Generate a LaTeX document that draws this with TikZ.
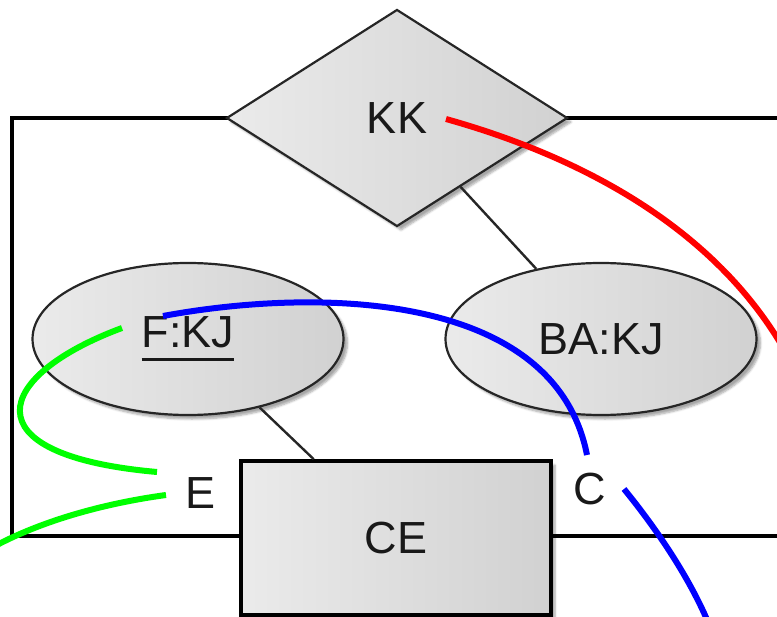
\documentclass[tikz,border=0pt]{standalone}
\usepackage{fontspec}
\setmainfont{Liberation Sans}
\usetikzlibrary{shapes.geometric,shadows.blur}
\begin{document}
\begin{tikzpicture}[x=1pt,y=-1pt,
  lbl/.style={font=\fontsize{45}{52}\selectfont, text=black!90},
  shp/.style={lbl, draw=black!85, line width=2.2pt, inner sep=0pt,
    left color=black!8, right color=black!18,
    blur shadow={shadow xshift=4pt, shadow yshift=-4pt, shadow blur steps=6, shadow opacity=35}},
  frame/.style={line width=3.6pt, black},
  link/.style={line width=2.4pt, black!85},
  curve/.style={line width=6pt},
]
\useasboundingbox (0,0) rectangle (777,617);
\clip (0,0) rectangle (777,617);
% frame
\draw[frame] (12,118) rectangle (820,536);
% shapes
\node[shp, diamond, aspect=1.57, minimum width=341pt, minimum height=217pt] (kk) at (397,118) {KK};
\node[shp, ellipse, minimum width=311pt, minimum height=152pt] (fkj) at (188,339)
  {\setbox0\hbox{F:KJ}\rlap{\rule[-13.5pt]{\wd0}{3.2pt}}\box0};
\node[shp, ellipse, minimum width=311pt, minimum height=152pt] (bakj) at (601,339) {BA:KJ};
\node[shp, rectangle, draw=black, line width=3.6pt, minimum width=310pt, minimum height=154pt] (ce) at (396,538) {CE};
% links
\draw[link] (kk) -- (bakj);
\draw[link] (fkj) -- (ce);
% labels
\node[lbl] (e) at (201,493) {E};
\node[lbl] (c) at (590,489) {C};
% curve end points
\coordinate (r1) at (446,119);
\coordinate (r2) at (800,380);
\coordinate (b1) at (163,316);
\coordinate (b2) at (587,455);
\coordinate (b3) at (624,489);
\coordinate (b4) at (708,622);
\coordinate (g1) at (122,328);
\coordinate (g2) at (157,472);
\coordinate (g3) at (166,495);
\coordinate (g4) at (-5,546);
% curves
\draw[curve, red] (r1) .. controls (610,165) and (740,250) .. (r2);
\draw[curve, blue] (b1) .. controls (320,287) and (555,292) .. (b2);
\draw[curve, blue] (b3) .. controls (655,527) and (688,575) .. (b4);
\draw[curve, green] (g1) .. controls (-5,375) and (-35,455) .. (g2);
\draw[curve, green] (g3) .. controls (100,504) and (40,522) .. (g4);
\end{tikzpicture}
\end{document}
